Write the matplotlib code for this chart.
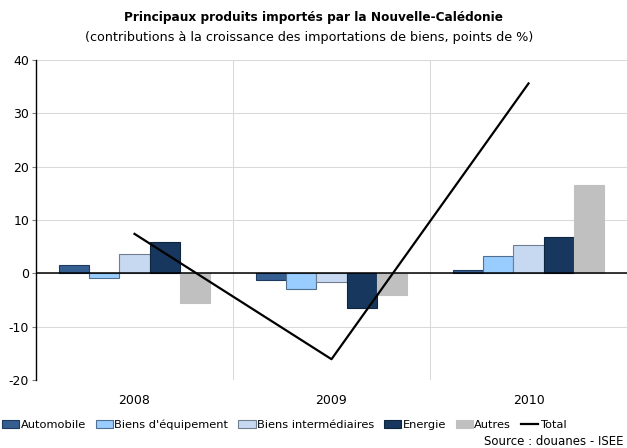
import matplotlib
matplotlib.use("Agg")
import matplotlib.pyplot as plt
import numpy as np

plt.rcParams['font.family'] = ['DejaVu Sans']

years = ["2008", "2009", "2010"]
series_names = ["Automobile", "Biens d'équipement", "Biens intermédiaires", "Energie", "Autres"]
automobile = [1.5, -1.2, 0.6]
biens_equipement = [-0.8, -3.0, 3.2]
biens_intermediaires = [3.7, -1.6, 5.4]
energie = [5.9, -6.5, 6.8]
autres = [-5.6, -4.0, 16.6]
total = [7.4, -16.1, 35.6]
yticks = [-20, -10, 0, 10, 20, 30, 40]

colors = ["#365F91", "#99CCFF", "#C6D9F1", "#17375E", "#C0C0C0"]
edges = ["#1F3A5F", "#4F6F90", "#6F7F90", "#0E2540", "#C0C0C0"]

fig = plt.figure(figsize=(6.27, 4.48), dpi=100)
ax = fig.add_axes([36/627, 1-380/448, 591/627, 320/448])

x = np.arange(len(years))
bw = 0.154
data = [automobile, biens_equipement, biens_intermediaires, energie, autres]
handles = []
for i, (vals, c, e, n) in enumerate(zip(data, colors, edges, series_names)):
    h = ax.bar(x + (i - 2) * bw, vals, width=bw, color=c, edgecolor=e, linewidth=0.8, label=n, zorder=3)
    handles.append(h)

ln, = ax.plot(x, total, color="black", linewidth=1.6, label="Total", zorder=4)
handles.append(ln)

ax.set_xlim(-0.5, 2.5)
ax.set_ylim(-20, 40)
ax.set_yticks(yticks)
ax.set_yticklabels([str(v) for v in yticks], fontsize=9)
ax.set_xticks(x)
ax.set_xticklabels(years, fontsize=9)
ax.tick_params(axis='x', length=0, pad=10)
ax.tick_params(axis='y', length=3, color="#808080", pad=2)

for y in yticks:
    ax.axhline(y, color="#D9D9D9", linewidth=0.75, zorder=1)
for b in [0.5, 1.5]:
    ax.axvline(b, color="#D9D9D9", linewidth=0.75, zorder=1)
ax.axhline(0, color="black", linewidth=1.1, zorder=3.5)

for s in ["top", "right", "bottom"]:
    ax.spines[s].set_visible(False)
ax.spines["left"].set_color("black")
ax.spines["left"].set_linewidth(1)

fig.text(314/627, 1-18/448, "Principaux produits importés par la Nouvelle-Calédonie",
         ha="center", va="center", fontsize=8.7, fontweight="bold")
fig.text(309/627, 1-38/448, "(contributions à la croissance des importations de biens, points de %)",
         ha="center", va="center", fontsize=9.2)

leg = fig.legend(handles=handles, labels=series_names + ["Total"],
                 loc="center left", bbox_to_anchor=(0.0, 1-425/448), ncol=6, frameon=False,
                 fontsize=8.2, handlelength=1.5, handleheight=0.7, handletextpad=0.1,
                 columnspacing=0.9, borderaxespad=0, borderpad=0.2)

fig.text(624/627, 1-441/448, "Source : douanes - ISEE", ha="right", va="center", fontsize=8.5)

fig.savefig("out.png", dpi=100)
